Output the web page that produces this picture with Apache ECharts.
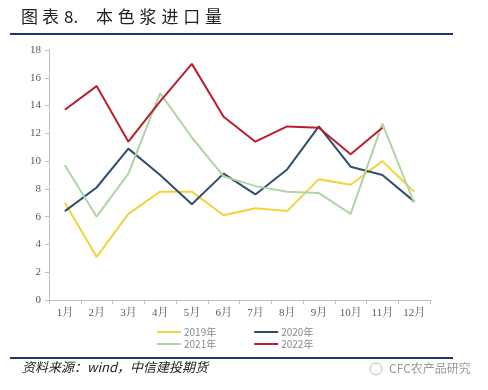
<!DOCTYPE html>
<html><head><meta charset="utf-8">
<script src="https://cdn.jsdelivr.net/npm/echarts@6/dist/echarts.min.js"></script>
<style>html,body{margin:0;padding:0;background:#fff}#c{width:488px;height:390px}</style>
</head><body><div id="c"></div>
<script>
const categories = ['1月','2月','3月','4月','5月','6月','7月','8月','9月','10月','11月','12月'];
const s2019 = [7.0, 3.1, 6.2, 7.8, 7.8, 6.1, 6.6, 6.4, 8.7, 8.3, 10.0, 7.8];
const s2020 = [6.4, 8.1, 10.9, 9.0, 6.9, 9.1, 7.6, 9.4, 12.5, 9.6, 9.0, 7.1];
const s2021 = [9.7, 6.0, 9.1, 14.9, 11.7, 8.9, 8.2, 7.8, 7.7, 6.2, 12.7, 7.0];
const s2022 = [13.7, 15.4, 11.4, 14.3, 17.0, 13.2, 11.4, 12.5, 12.4, 10.5, 12.4, null];
const seriesNames = ['2019年','2020年','2021年','2022年'];
const colors = ['#f2d33c','#2f4f6e','#b0d4a6','#b8202b'];
const yTicks = {min:0, max:18, interval:2};
const titleLead = '图表';
const titleNum = '8.';
const titleMain = '本色浆进口量';

const chart = echarts.init(document.getElementById('c'), null, {renderer:'canvas'});
const data = [s2019, s2020, s2021, s2022];
const labelFont = "'Liberation Serif','Noto Serif CJK SC','Noto Sans CJK SC',serif";
const titleFont = "17px 'Noto Sans CJK SC',sans-serif";
const titleGraphics = [
  {type:'text', left:21, top:8, style:{text:titleLead[0], fill:'#222', font:titleFont}},
  {type:'text', left:42, top:8, style:{text:titleLead[1], fill:'#222', font:titleFont}},
  {type:'text', left:64, top:8, style:{text:titleNum, fill:'#222', font:titleFont}}
].concat(titleMain.split('').map((ch,k)=>({type:'text', left:96+k*21.8, top:8, style:{text:ch, fill:'#222', font:titleFont}})));
chart.setOption({
  animation:false,
  backgroundColor:'#fff',
  grid:{left:49, right:58, top:50, bottom:90},
  xAxis:{type:'category', data:categories, boundaryGap:true,
    axisLine:{lineStyle:{color:'#bfbfbf'}},
    axisTick:{show:true, lineStyle:{color:'#bfbfbf'}, length:4},
    axisLabel:{color:'#595959', fontSize:11, fontFamily:labelFont, margin:8}},
  yAxis:{type:'value', min:yTicks.min, max:yTicks.max, interval:yTicks.interval,
    splitLine:{show:false},
    axisLine:{show:true, lineStyle:{color:'#bfbfbf'}},
    axisTick:{show:true, lineStyle:{color:'#bfbfbf'}, length:4},
    axisLabel:{color:'#595959', fontSize:11, fontFamily:labelFont, margin:8}},
  legend:[
    {data:[seriesNames[0], seriesNames[1]], left:152, top:322, icon:'rect', itemWidth:24, itemHeight:2, itemGap:38,
      textStyle:{color:'#8a8a8a', fontSize:10, fontFamily:"'Noto Sans CJK SC',sans-serif", padding:[0,0,0,-2]}},
    {data:[seriesNames[2], seriesNames[3]], left:152, top:334, icon:'rect', itemWidth:24, itemHeight:2, itemGap:38,
      textStyle:{color:'#8a8a8a', fontSize:10, fontFamily:"'Noto Sans CJK SC',sans-serif", padding:[0,0,0,-2]}}
  ],
  series: seriesNames.map((n,i)=>({name:n, type:'line', data:data[i], symbol:'none',
    lineStyle:{color:colors[i], width:2}, itemStyle:{color:colors[i]}, z: i===0?2:3})),
  graphic: titleGraphics.concat([
    {type:'rect', shape:{x:10, y:33, width:443, height:2}, style:{fill:'#1f3864'}},
    {type:'rect', shape:{x:10, y:357, width:443, height:2}, style:{fill:'#1f3864'}},
    {type:'text', left:22, top:361, style:{text:'资料来源：wind，中信建投期货', fill:'#222', font:"italic 13px 'Noto Sans CJK SC',sans-serif"}},
    {type:'circle', shape:{cx:376, cy:369, r:6}, style:{fill:'none', stroke:'#bbb', lineWidth:1}},
    {type:'text', left:389, top:362, style:{text:'CFC农产品研究', fill:'#999', font:"12px 'Noto Sans CJK SC',sans-serif"}}
  ])
});
</script></body></html>
